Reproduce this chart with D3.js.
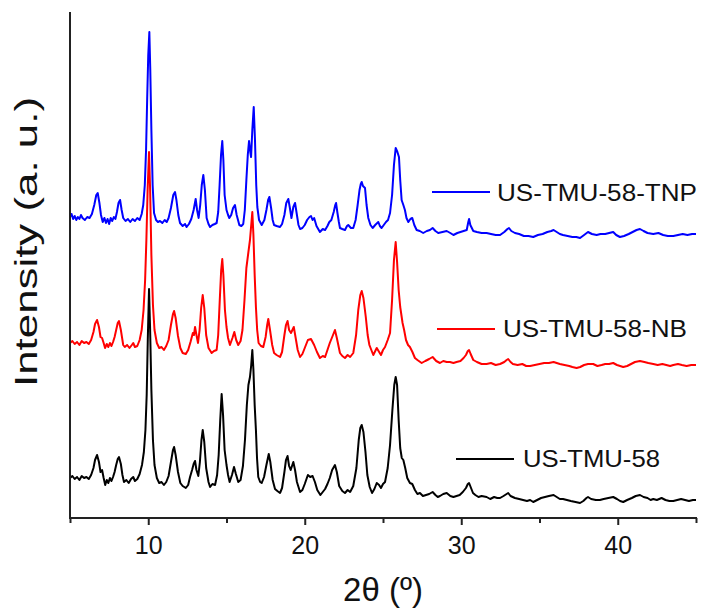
<!DOCTYPE html>
<html>
<head>
<meta charset="utf-8">
<script src="https://cdn.jsdelivr.net/npm/d3@7/dist/d3.min.js"></script>
<style>
  html, body { margin: 0; padding: 0; background: #fff; }
  svg { display: block; font-family: Arial, "Liberation Sans", sans-serif; }
</style>
</head>
<body>
<svg id="chart" width="701" height="614"></svg>
<script>
// Powder XRD patterns: [2θ (deg), net intensity (a.u.)] for each sample.
const patternParent = [
  [5.0,22],[5.15,24],[5.3,21],[5.45,23],[5.6,20],[5.75,24],[5.9,22],[6.05,23],[6.2,21],[6.35,25],
  [6.5,32],[6.6,40],[6.73,45],[6.85,38],[6.95,28],[7.05,30],[7.15,22],[7.25,15],[7.35,20],[7.45,17],
  [7.55,22],[7.65,19],[7.75,23],[7.85,28],[7.95,35],[8.05,41],[8.13,43],[8.25,36],[8.35,25],[8.45,18],
  [8.6,20],[8.75,17],[8.9,21],[9.04,23],[9.15,19],[9.3,21],[9.45,26],[9.6,35],[9.72,48],[9.82,70],
  [9.9,105],[9.97,160],[10.05,211],[10.12,170],[10.2,110],[10.3,60],[10.4,35],[10.55,22],[10.7,17],[10.85,18],
  [11.0,15],[11.15,18],[11.3,24],[11.45,38],[11.58,50],[11.65,53],[11.75,45],[11.9,28],[12.05,17],[12.2,14],
  [12.4,12],[12.55,15],[12.67,23],[12.8,30],[12.9,36],[12.99,39],[13.08,30],[13.2,24],[13.3,38],[13.4,60],
  [13.48,70],[13.58,58],[13.7,32],[13.85,18],[13.95,13],[14.1,16],[14.27,15],[14.4,25],[14.5,45],[14.6,80],
  [14.69,106],[14.78,85],[14.88,50],[15.0,35],[15.1,25],[15.2,18],[15.35,25],[15.48,33],[15.6,26],[15.75,18],
  [15.9,20],[16.05,34],[16.18,60],[16.3,95],[16.4,115],[16.5,123],[16.58,135],[16.65,150],[16.72,130],[16.8,95],
  [16.88,70],[16.95,42],[17.03,23],[17.15,18],[17.25,17],[17.4,23],[17.55,35],[17.7,46],[17.8,38],[17.95,20],
  [18.1,11],[18.25,9],[18.42,7],[18.55,12],[18.7,28],[18.8,40],[18.9,44],[19.0,34],[19.1,30],[19.27,38],
  [19.38,30],[19.5,18],[19.7,8],[19.85,10],[20.0,16],[20.2,25],[20.35,23],[20.5,24],[20.65,18],[20.8,10],
  [21.0,5],[21.15,8],[21.3,11],[21.45,16],[21.6,22],[21.75,30],[21.93,35],[22.05,28],[22.2,14],[22.4,9],
  [22.57,7],[22.74,10],[22.9,8],[23.1,14],[23.3,32],[23.45,60],[23.55,72],[23.64,75],[23.75,68],[23.88,48],
  [24.0,25],[24.15,13],[24.3,7],[24.45,11],[24.6,17],[24.75,15],[24.87,12],[25.0,16],[25.13,18],[25.3,32],
  [25.45,55],[25.6,90],[25.72,115],[25.81,123],[25.9,115],[26.0,80],[26.1,52],[26.2,42],[26.3,40],[26.42,32],
  [26.55,22],[26.72,17],[26.87,16],[27.04,10],[27.2,6],[27.36,7],[27.55,4],[27.75,5],[27.95,6],[28.17,8],
  [28.35,5],[28.5,3],[28.64,4],[28.85,6],[29.07,7],[29.3,4],[29.5,3],[29.7,4],[29.9,5],[30.1,8],
  [30.3,12],[30.42,16],[30.5,17],[30.6,13],[30.75,7],[30.9,5],[31.1,3],[31.3,4],[31.62,3],[31.85,1],
  [32.1,3],[32.3,2],[32.48,2],[32.7,4],[32.9,6],[33.0,7],[33.15,4],[33.43,2],[33.7,1],[33.95,0],
  [34.2,-1],[34.4,0],[34.6,-2],[34.85,0],[35.1,2],[35.35,3],[35.6,4],[35.9,5],[36.1,3],[36.3,1],
  [36.5,1],[36.75,0],[37.0,-1],[37.3,-2],[37.59,-3],[37.8,-1],[38.0,2],[38.1,3],[38.3,1],[38.6,0],
  [38.86,0],[39.1,1],[39.4,2],[39.71,3],[39.95,1],[40.15,-1],[40.35,-2],[40.6,0],[40.9,2],[41.15,4],
  [41.42,5],[41.65,3],[41.9,2],[42.1,0],[42.27,1],[42.5,0],[42.8,2],[43.05,0],[43.3,-1],[43.55,-1],
  [43.8,0],[44.05,1],[44.3,0],[44.55,-1],[44.8,0],[45.0,0]
];

const patternNB = [
  [5.0,22],[5.15,24],[5.3,21],[5.45,23],[5.6,20],[5.75,24],[5.9,22],[6.05,23],[6.2,21],[6.35,25],
  [6.5,33],[6.6,41],[6.73,45],[6.85,38],[6.95,28],[7.05,27],[7.15,22],[7.24,17],[7.35,21],[7.45,18],
  [7.55,22],[7.65,19],[7.75,23],[7.85,28],[7.95,35],[8.05,42],[8.13,44],[8.25,35],[8.4,20],[8.5,18],
  [8.65,20],[8.8,17],[8.95,20],[9.04,22],[9.15,18],[9.3,19],[9.45,25],[9.58,35],[9.7,55],[9.8,85],
  [9.88,125],[9.96,175],[10.05,213],[10.12,175],[10.2,110],[10.3,60],[10.4,35],[10.55,22],[10.7,17],[10.85,18],
  [11.0,15],[11.15,19],[11.3,25],[11.45,40],[11.58,51],[11.65,54],[11.75,47],[11.9,29],[12.05,17],[12.2,12],
  [12.4,11],[12.55,15],[12.7,23],[12.85,32],[12.92,30],[12.99,38],[13.08,30],[13.18,22],[13.28,35],[13.38,57],
  [13.48,70],[13.58,57],[13.7,30],[13.85,17],[14.05,12],[14.2,14],[14.37,15],[14.47,30],[14.57,65],[14.66,95],
  [14.73,106],[14.8,90],[14.9,55],[15.0,38],[15.1,27],[15.22,20],[15.38,27],[15.5,33],[15.62,25],[15.75,20],
  [15.9,24],[16.02,35],[16.15,65],[16.27,97],[16.4,113],[16.5,125],[16.58,140],[16.65,153],[16.72,130],[16.8,90],
  [16.88,58],[16.96,35],[17.05,22],[17.2,19],[17.35,18],[17.5,28],[17.6,40],[17.67,46],[17.78,35],[17.92,20],
  [18.04,12],[18.2,10],[18.42,8],[18.55,13],[18.7,30],[18.8,40],[18.9,44],[19.0,35],[19.12,32],[19.3,38],
  [19.42,27],[19.55,15],[19.7,8],[19.85,11],[20.0,17],[20.2,25],[20.4,26],[20.6,20],[20.78,13],[20.97,7],
  [21.15,9],[21.3,8],[21.45,15],[21.6,22],[21.78,29],[21.93,35],[22.05,27],[22.25,12],[22.4,9],[22.57,7],
  [22.74,10],[22.9,8],[23.1,12],[23.28,30],[23.42,55],[23.55,70],[23.64,74],[23.75,67],[23.9,48],[24.02,30],
  [24.13,20],[24.38,10],[24.6,17],[24.87,10],[25.0,15],[25.13,18],[25.3,25],[25.45,32],[25.58,65],[25.7,105],
  [25.81,123],[25.9,103],[26.0,75],[26.1,58],[26.25,42],[26.35,35],[26.47,25],[26.6,20],[26.72,18],[26.88,13],
  [27.04,7],[27.2,5],[27.47,2],[27.7,4],[27.95,6],[28.17,8],[28.4,4],[28.64,2],[28.85,4],[29.07,3],
  [29.28,3],[29.5,2],[29.7,3],[29.95,4],[30.15,7],[30.3,10],[30.42,14],[30.5,15],[30.6,11],[30.77,5],
  [31.0,3],[31.3,1],[31.62,1],[31.9,2],[32.2,0],[32.48,1],[32.75,3],[32.9,5],[33.0,6],[33.15,3],
  [33.3,1],[33.6,0],[33.9,1],[34.15,-1],[34.4,-1],[34.7,0],[35.0,1],[35.3,2],[35.6,2],[35.9,3],
  [36.1,2],[36.3,1],[36.6,0],[36.9,-1],[37.1,-2],[37.37,-3],[37.6,-2],[37.85,0],[38.1,1],[38.43,1],
  [38.7,-1],[38.97,0],[39.2,1],[39.45,1],[39.71,2],[39.95,0],[40.15,-1],[40.35,-2],[40.6,-1],[40.85,1],
  [41.1,3],[41.42,4],[41.7,3],[41.95,2],[42.27,1],[42.55,0],[42.85,1],[43.1,0],[43.35,-1],[43.55,0],
  [43.85,1],[44.1,0],[44.4,-1],[44.7,0],[45.0,0]
];

const patternTNP = [
  [5.0,17],[5.1,20],[5.2,15],[5.3,18],[5.4,14],[5.5,17],[5.6,15],[5.7,19],[5.8,16],[5.95,14],
  [6.1,17],[6.25,16],[6.4,20],[6.55,29],[6.68,39],[6.77,41],[6.88,31],[6.98,19],[7.09,12],[7.2,16],
  [7.3,11],[7.4,15],[7.5,10],[7.6,16],[7.7,13],[7.8,17],[7.9,15],[8.0,22],[8.1,31],[8.2,34],
  [8.3,24],[8.4,16],[8.55,13],[8.7,15],[8.85,12],[9.0,15],[9.15,13],[9.3,16],[9.45,14],[9.58,20],
  [9.68,29],[9.78,49],[9.86,84],[9.93,134],[10.0,179],[10.07,202],[10.13,164],[10.2,104],[10.28,49],[10.37,21],
  [10.5,14],[10.62,12],[10.75,13],[10.9,11],[11.05,14],[11.18,12],[11.3,16],[11.45,26],[11.6,39],[11.71,42],
  [11.8,34],[11.92,19],[12.03,11],[12.2,8],[12.35,10],[12.45,7],[12.6,10],[12.75,15],[12.9,24],[13.03,35],
  [13.12,24],[13.22,16],[13.32,29],[13.42,49],[13.52,59],[13.62,44],[13.73,16],[13.85,10],[13.95,7],[14.1,9],
  [14.25,10],[14.37,11],[14.47,22],[14.56,49],[14.65,79],[14.73,93],[14.8,74],[14.88,39],[15.0,24],[15.1,19],
  [15.18,16],[15.3,19],[15.42,26],[15.54,29],[15.65,19],[15.82,9],[15.95,8],[16.07,10],[16.17,24],[16.27,54],
  [16.36,79],[16.44,93],[16.52,82],[16.57,77],[16.65,104],[16.74,127],[16.82,94],[16.9,49],[16.97,27],[17.08,14],
  [17.25,9],[17.42,14],[17.55,24],[17.66,34],[17.74,37],[17.85,26],[17.95,14],[18.04,9],[18.2,8],[18.42,7],
  [18.55,10],[18.7,19],[18.82,31],[18.95,35],[19.05,26],[19.15,16],[19.27,27],[19.38,31],[19.5,19],[19.6,9],
  [19.7,5],[19.85,6],[20.0,9],[20.15,14],[20.3,17],[20.4,18],[20.5,14],[20.6,16],[20.75,8],[20.97,2],
  [21.15,5],[21.3,4],[21.45,8],[21.57,12],[21.7,14],[21.85,22],[21.95,29],[22.0,31],[22.08,22],[22.18,12],
  [22.25,6],[22.4,5],[22.57,4],[22.7,8],[22.78,9],[22.95,6],[23.1,6],[23.25,14],[23.38,29],[23.5,44],
  [23.58,50],[23.64,52],[23.72,48],[23.85,46],[23.95,29],[24.06,16],[24.2,9],[24.34,6],[24.5,9],[24.7,12],
  [24.8,8],[24.91,6],[25.05,9],[25.19,12],[25.32,14],[25.45,21],[25.58,39],[25.7,69],[25.81,86],[25.92,82],
  [26.02,77],[26.1,54],[26.19,34],[26.3,29],[26.4,24],[26.5,16],[26.62,12],[26.75,15],[26.87,16],[27.0,9],
  [27.15,4],[27.35,3],[27.57,1],[27.8,3],[28.0,4],[28.17,6],[28.35,3],[28.53,1],[28.8,2],[29.07,3],
  [29.3,1],[29.5,-1],[29.75,1],[29.95,2],[30.15,3],[30.35,4],[30.45,12],[30.5,15],[30.58,9],[30.77,3],
  [31.0,2],[31.3,1],[31.62,1],[31.9,0],[32.2,-1],[32.48,-1],[32.75,2],[32.95,5],[33.05,6],[33.2,3],
  [33.43,1],[33.7,0],[34.0,-2],[34.3,-2],[34.6,-3],[34.9,-1],[35.2,0],[35.5,2],[35.75,3],[35.9,4],
  [36.1,2],[36.3,0],[36.5,-1],[36.8,-2],[37.1,-3],[37.35,-3],[37.59,-4],[37.85,-1],[38.1,2],[38.35,0],
  [38.65,-1],[38.9,0],[39.2,0],[39.45,1],[39.71,2],[39.9,-1],[40.14,-3],[40.4,-2],[40.7,0],[40.95,2],
  [41.2,4],[41.42,5],[41.65,3],[41.9,1],[42.27,0],[42.6,1],[42.9,-1],[43.2,-2],[43.55,-2],[43.85,-1],
  [44.15,0],[44.45,-1],[44.75,0],[45.0,0]
];

// Series names, vertical stacking offsets (a.u.) and colours, bottom to top
const seriesNames   = ["US-TMU-58", "US-TMU-58-NB", "US-TMU-58-TNP"];
const seriesOffsets = [18, 153, 284];
const seriesColors  = ["#000000", "#ff0000", "#0000ff"];
const seriesData    = [patternParent, patternNB, patternTNP];

// Axis ticks
const majorTicks = [10, 20, 30, 40];
const minorTicks = [5, 15, 25, 35, 45];
const xLabel = "2θ (º)";
const yLabel = "Intensity (a. u.)";

// ---------- layout ----------
const svg = d3.select("#chart");
const plot = { left: 70, right: 696, top: 12, bottom: 518 };

const x = d3.scaleLinear().domain([5, 45]).range([plot.left, plot.right]);
const y = d3.scaleLinear().domain([0, 506]).range([plot.bottom, plot.top]);

// traces
const line = d3.line()
  .x(d => x(d[0]))
  .y(d => y(d[1]));

const traces = svg.append("g");
seriesData.forEach((data, i) => {
  const off = seriesOffsets[i];
  traces.append("path")
    .datum(data.map(d => [d[0], d[1] + off]))
    .attr("fill", "none")
    .attr("stroke", seriesColors[i])
    .attr("stroke-width", 2)
    .attr("stroke-linejoin", "round")
    .attr("d", line);
});

// x axis: minor ticks, then major ticks with labels
const gMinor = svg.append("g")
  .attr("transform", `translate(0,${plot.bottom})`)
  .call(d3.axisBottom(x).tickValues(minorTicks).tickSize(5).tickSizeOuter(0).tickFormat(""));
gMinor.select(".domain").remove();
gMinor.selectAll(".tick line").attr("stroke", "#222").attr("stroke-width", 2);

const gx = svg.append("g")
  .attr("transform", `translate(0,${plot.bottom})`)
  .call(d3.axisBottom(x).tickValues(majorTicks).tickSize(7).tickSizeOuter(0).tickPadding(11).tickFormat(d3.format("d")));
gx.select(".domain").attr("stroke", "#222").attr("stroke-width", 2)
  .attr("d", `M${plot.left - 1},0H${plot.right + 1}`);
gx.selectAll(".tick line").attr("stroke", "#222").attr("stroke-width", 2);
gx.selectAll(".tick text")
  .attr("fill", "#111")
  .style("font-size", "25px")
  .style("font-family", "Arial, 'Liberation Sans', sans-serif");

// y axis: plain line, no ticks
svg.append("line")
  .attr("x1", plot.left).attr("x2", plot.left)
  .attr("y1", plot.top).attr("y2", plot.bottom)
  .attr("stroke", "#222").attr("stroke-width", 2);

// axis titles
svg.append("text")
  .attr("x", (plot.left + plot.right) / 2)
  .attr("y", 601)
  .attr("text-anchor", "middle")
  .attr("fill", "#111")
  .style("font-size", "33px")
  .text(xLabel);

svg.append("text")
  .attr("transform", `translate(37,${242}) rotate(-90)`)
  .attr("text-anchor", "middle")
  .attr("fill", "#111")
  .attr("textLength", 290)
  .attr("lengthAdjust", "spacingAndGlyphs")
  .style("font-size", "32px")
  .text(yLabel);

// series labels, each beside its own trace
const legendItems = [
  { name: seriesNames[2], color: seriesColors[2], x0: 432, x1: 490, ly: 192, tx: 497, ty: 201, len: 200 },
  { name: seriesNames[1], color: seriesColors[1], x0: 437, x1: 495, ly: 329, tx: 503, ty: 337, len: 184 },
  { name: seriesNames[0], color: seriesColors[0], x0: 456, x1: 514, ly: 459, tx: 523, ty: 467, len: 137 }
];
const lg = svg.append("g");
legendItems.forEach(it => {
  lg.append("line")
    .attr("x1", it.x0).attr("x2", it.x1)
    .attr("y1", it.ly).attr("y2", it.ly)
    .attr("stroke", it.color).attr("stroke-width", 2);
  lg.append("text")
    .attr("x", it.tx).attr("y", it.ty)
    .attr("fill", "#111")
    .attr("textLength", it.len)
    .attr("lengthAdjust", "spacingAndGlyphs")
    .style("font-size", "24px")
    .text(it.name);
});
</script>
</body>
</html>
